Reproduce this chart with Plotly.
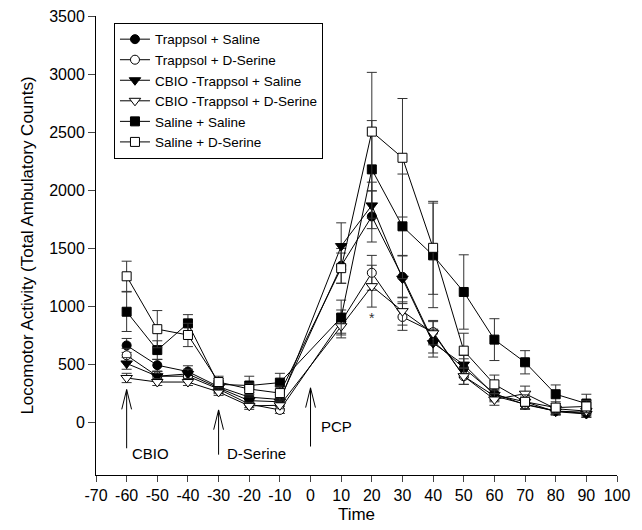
import plotly.graph_objects as go

time = [-60, -50, -40, -30, -20, -10, 10, 20, 30, 40, 50, 60, 70, 80, 90]

trap_sal = [665, 495, 440, 310, 220, 200, 1350, 1775, 1255, 700, 470, 250, 155, 100, 80]
trap_sal_err = [60, 50, 50, 40, 40, 40, 150, 220, 180, 100, 80, 50, 40, 30, 30]

trap_dser = [580, 400, 400, 290, 160, 110, 870, 1290, 910, 780, 400, 230, 160, 100, 90]
trap_dser_err = [60, 40, 40, 40, 30, 30, 100, 150, 115, 100, 70, 50, 40, 30, 30]

cbio_sal = [510, 400, 420, 300, 190, 180, 1520, 1870, 1240, 685, 500, 240, 180, 95, 75]
cbio_sal_err = [50, 40, 40, 40, 30, 30, 200, 200, 200, 120, 80, 50, 40, 30, 30]

cbio_dser = [385, 350, 350, 265, 145, 150, 830, 1175, 960, 770, 400, 200, 250, 120, 100]
cbio_dser_err = [40, 30, 30, 30, 30, 30, 100, 180, 120, 100, 70, 50, 65, 30, 30]

sal_sal = [955, 625, 855, 330, 320, 345, 905, 2180, 1690, 1440, 1125, 715, 520, 245, 165]
sal_sal_err = [170, 80, 75, 50, 80, 80, 150, 420, 450, 450, 320, 180, 100, 80, 80]

sal_dser = [1260, 805, 755, 350, 290, 255, 1330, 2505, 2280, 1505, 620, 330, 180, 130, 140]
sal_dser_err = [130, 160, 100, 50, 50, 60, 130, 510, 510, 400, 150, 80, 60, 50, 50]

series_names = ["Trappsol + Saline", "Trappsol + D-Serine", "CBIO -Trappsol + Saline",
                "CBIO -Trappsol + D-Serine", "Saline + Saline", "Saline + D-Serine"]
series_vals = [trap_sal, trap_dser, cbio_sal, cbio_dser, sal_sal, sal_dser]
series_errs = [trap_sal_err, trap_dser_err, cbio_sal_err, cbio_dser_err, sal_sal_err, sal_dser_err]
symbols = ["circle", "circle", "triangle-down", "triangle-down", "square", "square"]
fills = ["black", "white", "black", "white", "black", "white"]

arrow_x = [-60, -30, 0]
arrow_tip = [285, 110, 300]
arrow_tail = [-220, -275, -205]
arrow_labels = ["CBIO", "D-Serine", "PCP"]
label_x = [-58.8, -27.9, 2.8]
label_y = [-262, -262, -30]

xticks = list(range(-70, 101, 10))
xticklabels = [str(v) for v in xticks]
yticks = list(range(0, 3501, 500))

FONT = "Liberation Sans, Arial"

fig = go.Figure()

# arrows (shaft + open V head)
ax, ay = [], []
head_w, head_h = 1.6, 170
for x0, tip, tail in zip(arrow_x, arrow_tip, arrow_tail):
    ax += [x0, x0, None, x0 - head_w, x0, x0 + head_w, None]
    ay += [tail, tip, None, tip - head_h, tip, tip - head_h, None]
fig.add_trace(go.Scatter(x=ax, y=ay, mode="lines", line=dict(color="black", width=1),
                         showlegend=False, hoverinfo="skip"))

for name, vals, errs, sym, fc in zip(series_names, series_vals, series_errs, symbols, fills):
    fig.add_trace(go.Scatter(
        x=time, y=vals, name=name, mode="lines+markers",
        line=dict(color="black", width=1),
        marker=dict(symbol=sym, size=10 if "triangle" in sym else 9, color=fc,
                    line=dict(color="black", width=1)),
        error_y=dict(type="data", array=errs, visible=True, color="#333333",
                     thickness=1, width=5),
    ))

for t, lx, ly in zip(arrow_labels, label_x, label_y):
    fig.add_annotation(x=lx, y=ly, text=t, showarrow=False, xanchor="left", yanchor="middle",
                       font=dict(family=FONT, size=15, color="black"))

fig.add_annotation(x=20, y=900, text="*", showarrow=False,
                   font=dict(family=FONT, size=14, color="#333333"))

fig.update_layout(
    width=642, height=530,
    margin=dict(l=96, r=25, t=16, b=55),
    plot_bgcolor="white", paper_bgcolor="white",
    font=dict(family=FONT, size=16, color="black"),
    legend=dict(x=0.0345, y=0.985, xanchor="left", yanchor="top",
                bordercolor="black", borderwidth=1, bgcolor="white",
                font=dict(size=13.5), tracegroupgap=0),
    xaxis=dict(range=[-70, 100], tickvals=xticks, ticktext=xticklabels, ticks="outside", ticklen=6,
               showline=True, linecolor="black", linewidth=1, showgrid=False, zeroline=False,
               automargin=False,
               title=dict(text="Time", standoff=4, font=dict(size=17)), tickfont=dict(size=16)),
    yaxis=dict(range=[-450, 3500], tickvals=yticks, ticks="outside", ticklen=7,
               showline=True, linecolor="black", linewidth=1, showgrid=False, zeroline=False,
               automargin=False,
               title=dict(text="Locomotor Activity (Total Ambulatory Counts)", standoff=11,
                          font=dict(size=17)),
               tickfont=dict(size=16)),
)

fig.write_html("out.html")
